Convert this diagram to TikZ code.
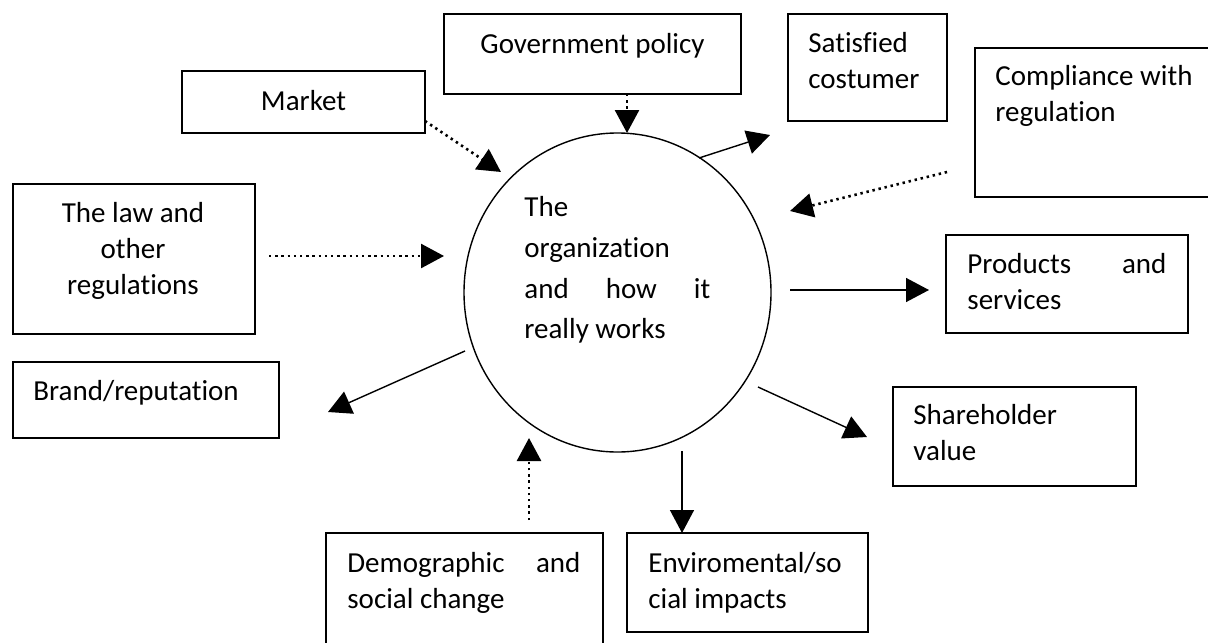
\documentclass[tikz,border=0pt]{standalone}
\usepackage{fontspec}
\setmainfont{Carlito}[Ligatures=NoCommon]
\usetikzlibrary{arrows.meta,shapes.geometric}
\newcommand\mystrut{\rule{0pt}{11pt}}
\begin{document}
\begin{tikzpicture}[x=0.5pt,y=-0.5pt,
  box/.style={draw, line width=0.8pt, rectangle, inner sep=0pt, outer sep=0pt, anchor=north west},
  txt/.style={font=\fontsize{14.5pt}{18pt}\selectfont, inner sep=0pt, align=left, anchor=north west},
  ctxt/.style={txt, align=center, anchor=north},
  orgstyle/.style={draw, ellipse, line width=0.7pt, inner sep=0pt, minimum width=153.5pt, minimum height=159.5pt},
  solidarrow/.style={line width=0.7pt, -{Triangle[length=11.5pt,width=12pt]}},
  dotarrow/.style={line width=1.3pt, dash pattern=on 1.2pt off 1.9pt, -{Triangle[length=11.5pt,width=12pt]}}
]
\useasboundingbox (0,0) rectangle (1208,642);
\clip (0,0) rectangle (1208,642);

% boxes
\node[box, minimum width=148.5pt, minimum height=40pt] (gov) at (444,14) {};
\node[box, minimum width=121.5pt, minimum height=31pt] (market) at (182,71) {};
\node[box, minimum width=79.5pt, minimum height=53.5pt] (sat) at (788,14) {};
\node[box, minimum width=130pt, minimum height=74.5pt] (comp) at (975,48) {};
\node[box, minimum width=121pt, minimum height=75pt] (law) at (13,184) {};
\node[box, minimum width=121pt, minimum height=49pt] (prod) at (946,235) {};
\node[box, minimum width=133pt, minimum height=38pt] (brand) at (13,362) {};
\node[box, minimum width=121.5pt, minimum height=49.5pt] (share) at (893,387) {};
\node[box, minimum width=138.5pt, minimum height=65pt] (demo) at (326,533) {};
\node[box, minimum width=120.5pt, minimum height=49.5pt] (env) at (627,533) {};

% centre
\node[orgstyle] (org) at (617.5,292.5) {};

% texts
\node[ctxt] (govt) at (592.5,31) {\mystrut Government policy};
\node[ctxt] (markett) at (303.5,88) {\mystrut Market};
\node[txt] (satt) at (808,30) {\mystrut Satisfied\\costumer};
\node[txt] (compt) at (995,63) {\mystrut Compliance with\\regulation};
\node[ctxt] (lawt) at (133,200) {\mystrut The law and\\other\\regulations};
\node[txt] (prodt) at (967,251) {\mystrut\hbox to 99.5pt{Products\hfill and}\\services};
\node[txt] (brandt) at (33,378) {\mystrut Brand/reputation};
\node[txt] (sharet) at (913,402) {\mystrut Shareholder\\value};
\node[txt] (demot) at (347,550) {\mystrut\hbox to 116.5pt{Demographic\hfill and}\\social change};
\node[txt] (envt) at (648,550) {\mystrut Enviromental/so\\cial impacts};
\node[txt, font=\fontsize{14.5pt}{20.4pt}\selectfont] (orgt) at (524,194) {\mystrut The\\organization\\\hbox to 93pt{and\hfill how\hfill it}\\really works};

% connector end points
\coordinate (mA) at (425,121);  \coordinate (mB) at (501,172);
\coordinate (gA) at (627,94);   \coordinate (gB) at (627,133);
\coordinate (sA) at (699,158);  \coordinate (sB) at (770,135);
\coordinate (cA) at (947,172);  \coordinate (cB) at (790,211);
\coordinate (lA) at (269,256);  \coordinate (lB) at (444,256);
\coordinate (pA) at (790,290);  \coordinate (pB) at (929,290);
\coordinate (bA) at (465,351);  \coordinate (bB) at (328,412);
\coordinate (hA) at (758,387);  \coordinate (hB) at (867,437);
\coordinate (eA) at (682,451);
\coordinate (dA) at (529,520);  \coordinate (dB) at (529,438);

% connectors
\draw[dotarrow] (mA) -- (mB);
\draw[dotarrow] (gov.south -| gA) -- (gB);
\draw[solidarrow] (sA) -- (sB);
\draw[dotarrow] (cA) -- (cB);
\draw[dotarrow] (lA) -- (lB);
\draw[solidarrow] (pA) -- (pB);
\draw[solidarrow] (bA) -- (bB);
\draw[solidarrow] (hA) -- (hB);
\draw[solidarrow] (eA) -- (eA |- env.north);
\draw[dotarrow] (dA) -- (dB);
\end{tikzpicture}
\end{document}
